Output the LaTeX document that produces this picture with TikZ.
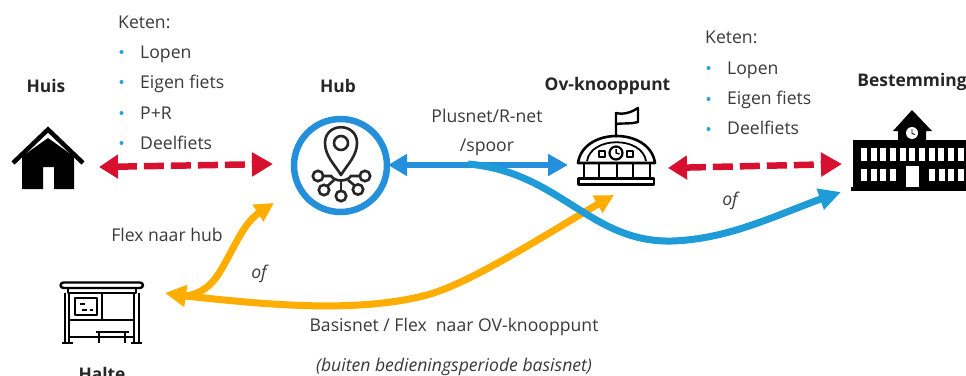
\documentclass[tikz,border=0pt]{standalone}
\usepackage{fontspec}
\setmainfont{Open Sans}
\usetikzlibrary{arrows.meta,bending}
\definecolor{txt}{HTML}{3A3A3A}
\definecolor{rd}{HTML}{D7102F}
\definecolor{hubblue}{HTML}{2490DC}
\definecolor{curveblue}{HTML}{1F9BD7}
\definecolor{orng}{HTML}{FFAE00}
\definecolor{bul}{HTML}{2A9FD8}
\tikzset{
  lbl/.style={font=\fontsize{17.6}{20}\selectfont,text=txt,inner sep=0pt,anchor=base},
  lblw/.style={lbl,anchor=base west},
  lbli/.style={lbl,font=\fontsize{17.6}{20}\selectfont\itshape},
  ttl/.style={font=\fontsize{17.4}{20}\selectfont\bfseries,text=black!85,inner sep=0pt,anchor=base},
  bulletdot/.style={fill=bul,draw=none},
  redarrow/.style={draw=rd,line width=6.5pt,dash pattern=on 20pt off 7pt,
     {Triangle[length=19pt,width=23pt]}-{Triangle[length=21pt,width=23pt]}},
  bluearrow/.style={draw=hubblue,line width=6pt,
     {Triangle[length=19pt,width=21pt]}-{Triangle[length=20pt,width=21pt]}},
  curvearrow/.style={draw=curveblue,line width=7pt,-{Triangle[length=22pt,width=21pt,flex]}},
  orngarrow/.style={draw=orng,line width=7pt,-{Triangle[length=19pt,width=19pt,flex]}},
  orngboth/.style={draw=orng,line width=7pt,{Triangle[length=21pt,width=21pt,flex]}-{Triangle[length=19pt,width=19pt,flex]}},
  icon/.style={draw=black,line width=2.4pt,line join=round},
  iconthin/.style={draw=black!85,line width=2.6pt},
}
\begin{document}
\begin{tikzpicture}[x=1pt,y=-1pt]
\useasboundingbox (0,0) rectangle (966,375);
\clip (0,0) rectangle (966,375);
\fill[white] (0,0) rectangle (966,375);
% anchors
\coordinate (huisE) at (99,167);
\coordinate (hubW) at (273,164);
\coordinate (hubE) at (388,165);
\coordinate (ovW) at (568,165);
\coordinate (ovE) at (668,168);
\coordinate (bestW) at (842,164);
\coordinate (bestSW) at (841,192);
\coordinate (hubSW) at (274,203);
\coordinate (ovS) at (614,195);
\coordinate (halteE) at (165,293);
\coordinate (blueStart) at (468,164);
\coordinate (orngStart) at (186,296);
% texts
\node[ttl] (huis) at (46,92) {Huis};
\node[ttl] (hub) at (338,92) {Hub};
\node[ttl] (ov) at (607.5,90) {Ov-knooppunt};
\node[ttl] (best) at (912,86) {Bestemming};
\node[ttl] (halte) at (102,380.5) {Halte};
\node[lblw] (k1) at (118,28) {Keten:};
\node[lblw] (k1a) at (140,58.5) {Lopen};
\node[lblw] (k1b) at (140,88.5) {Eigen fiets};
\node[lblw] (k1c) at (140,119) {P+R};
\node[lblw] (k1d) at (140,149) {Deelfiets};
\foreach \y in {52,82,113,143} \fill[bulletdot] (121.5,\y) circle[radius=2pt];
\node[lblw] (k2) at (705,43) {Keten:};
\node[lblw] (k2a) at (727,74) {Lopen};
\node[lblw] (k2b) at (727,104) {Eigen fiets};
\node[lblw] (k2c) at (727,134.5) {Deelfiets};
\foreach \y in {68,99,129} \fill[bulletdot] (708.5,\y) circle[radius=2pt];
\node[lbl] (pn) at (487,122) {Plusnet/R-net};
\node[lbl] (sp) at (487,151.5) {/spoor};
\node[lbl] (fx) at (167,241.5) {Flex naar hub};
\node[lbli] (of1) at (259,278) {of};
\node[lbli] (of2) at (730,205) {of};
\node[lbl] (bn) at (454,331) {Basisnet / Flex\ \ naar OV-knooppunt};
\node[lbli] (bb) at (454,371) {(buiten bedieningsperiode basisnet)};
% house
\draw[black,line width=4.5pt,miter limit=10] (13,163) -- (48,129.5) -- (83,163);
\fill[black] (22,156.5) -- (48,138) -- (74,156.5) -- (74,189) -- (54,189) -- (54,167) -- (43,167) -- (43,189) -- (22,189) -- cycle;
% hub
\draw[hubblue,line width=6.5pt] (340.5,165.5) circle[radius=46.5];
\begin{scope}[iconthin]
\draw[line join=round] (341,175) .. controls (335,165) and (325,156) .. (325,143) .. controls (325,122) and (357,122) .. (357,143) .. controls (357,156) and (347,165) .. (341,175) -- cycle;
\draw (341,143) circle[radius=7];
\foreach \a/\b in {318/176,365/176,324/190,358/189.5,341/196} \draw (\a,\b) circle[radius=5.2];
\draw (323,176) -- (331,176) .. controls (335,182) and (347,182) .. (351,176) -- (360,176);
\draw (341,180.5) -- (341,191);
\draw (327.5,186) -- (334,180);
\draw (354.5,185.5) -- (348,180);
\end{scope}
% ov-knooppunt
\begin{scope}[icon]
\draw (616,137) -- (616,113) .. controls (624,115) and (632,112) .. (638,108) -- (638,122) .. controls (632,124) and (624,123) .. (616,124);
\draw[line width=2.6pt] (578,163) .. controls (583,127) and (650,127) .. (655,163) -- cycle;
\draw[line width=1.8pt] (587,161) .. controls (591,136) and (642,136) .. (646,161);
\draw[line width=2.2pt] (616,153) circle[radius=6.5];
\draw[line width=1.5pt] (616,149) -- (616,153) -- (619.5,154);
\draw (599,151) rectangle (605,157);
\draw (627,151) rectangle (633,157);
\foreach \x in {584,599,617,633,650} \draw (\x,163) -- (\x,178);
\draw (578.5,178.5) rectangle (654,184.5);
\end{scope}
% building
\fill[black] (912,110) -- (932,131) -- (926,131) -- (926,140) -- (972,140) -- (972,187) -- (853,187) -- (853,140) -- (898,140) -- (898,131) -- (893,131) -- cycle;
\fill[black] (851,187) rectangle (972,190.5);
\fill[white] (912,133) circle[radius=6];
\draw[black,line width=.8pt] (912,129) -- (912,133.5) -- (915,134.5);
\foreach \i in {0,...,10} \fill[white] ({861+\i*9.67},148) rectangle ++(6,13);
\foreach \i in {0,1,2,3} {\fill[white] ({861+\i*9.67},169) rectangle ++(6,12); \fill[white] ({929+\i*9.67},169) rectangle ++(6,12);}
\fill[white] (906,166) rectangle (919,187);
% halte
\begin{scope}[icon,line width=2.1pt]
\draw[line width=2.4pt,rounded corners=3pt] (60.5,288) -- (60.5,282.5) -- (143,282.5) -- (143,288) -- cycle;
\draw (68,288) -- (136,288) -- (136,293) -- (68,293) -- cycle;
\draw (65,293) -- (65,343) (69,293) -- (69,343);
\draw (134,293) -- (134,343) (139,293) -- (139,343);
\draw[line width=2.4pt] (62,343) -- (73,343) (131,343) -- (142,343);
\draw (69,320) -- (134,320);
\draw (102,293) -- (102,320);
\draw[line width=1.8pt] (75,298) rectangle (97,315);
\draw[line width=1.4pt] (80,304) -- (85,304) (82,310) -- (87,310) (90,310) -- (93,310);
\draw (69,337) -- (134,337);
\draw (96,332) -- (129,332);
\draw (99,332) -- (99,343) (125,332) -- (125,343);
\end{scope}
% connectors
\draw[redarrow] (huisE) -- (hubW);
\draw[redarrow] (ovE) -- (bestW);
\draw[bluearrow] (hubE) -- (ovW);
\draw[orngarrow] (orngStart) .. controls (260,304) and (355,314) .. (427,295) .. controls (475,282) and (560,225) .. (ovS);
\draw[orngboth] (halteE) -- (orngStart) .. controls (212,292) and (220,272) .. (232,250) .. controls (245,226) and (250,216) .. (hubSW);
\draw[curvearrow] (blueStart) .. controls (560,172) and (590,243) .. (672,241) .. controls (735,239) and (785,210) .. (bestSW);
\end{tikzpicture}
\end{document}
